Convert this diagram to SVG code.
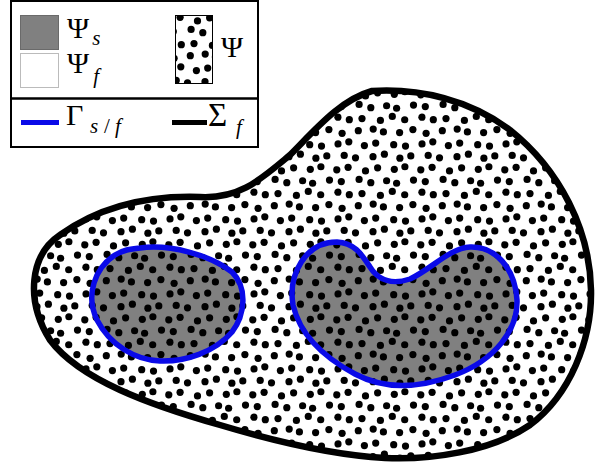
<svg xmlns="http://www.w3.org/2000/svg" width="596" height="470" viewBox="0 0 596 470">
<style>
.t{font-family:"Liberation Serif","DejaVu Serif",serif;fill:#000}
.sub{font-style:italic}
.inc{fill:#808080}
.incl{fill:none;stroke:#0a0ae8;stroke-width:5.5;stroke-linejoin:round}
</style>
<defs>
<pattern id="dots" patternUnits="userSpaceOnUse" width="84" height="75">
<g fill="#000">
<circle cx="8.2" cy="5.45" r="3.6"/><circle cx="19.5" cy="7.85" r="3.6"/><circle cx="37" cy="6.65" r="3.6"/><circle cx="48.4" cy="4.15" r="3.6"/><circle cx="63.9" cy="8.15" r="3.6"/><circle cx="74.8" cy="5.95" r="3.6"/>
<circle cx="0.8" cy="19.85" r="3.6"/><circle cx="84.8" cy="19.85" r="3.6"/><circle cx="12.1" cy="17.35" r="3.6"/><circle cx="29.5" cy="20.95" r="3.6"/><circle cx="41.6" cy="17.85" r="3.6"/><circle cx="58.3" cy="19.35" r="3.6"/><circle cx="68.9" cy="16.75" r="3.6"/>
<circle cx="5.3" cy="31.55" r="3.6"/><circle cx="23.1" cy="29.45" r="3.6"/><circle cx="34.8" cy="32.65" r="3.6"/><circle cx="50.6" cy="30.75" r="3.6"/><circle cx="60.6" cy="33.25" r="3.6"/><circle cx="77.5" cy="30.05" r="3.6"/>
<circle cx="1.9" cy="42.15" r="3.6"/><circle cx="85.9" cy="42.15" r="3.6"/><circle cx="13.3" cy="44.65" r="3.6"/><circle cx="26" cy="43.55" r="3.6"/><circle cx="44.4" cy="45.45" r="3.6"/><circle cx="56.3" cy="41.45" r="3.6"/><circle cx="68.7" cy="44.75" r="3.6"/>
<circle cx="6.1" cy="58.35" r="3.6"/><circle cx="22.3" cy="55.65" r="3.6"/><circle cx="37.2" cy="54.05" r="3.6"/><circle cx="47.4" cy="56.95" r="3.6"/><circle cx="63.6" cy="57.55" r="3.6"/><circle cx="76.9" cy="54.55" r="3.6"/>
<circle cx="2" cy="68.95" r="3.6"/><circle cx="86" cy="68.95" r="3.6"/><circle cx="12.8" cy="66.85" r="3.6"/><circle cx="28.4" cy="70.55" r="3.6"/><circle cx="39.7" cy="68.05" r="3.6"/><circle cx="57.7" cy="69.65" r="3.6"/><circle cx="69.5" cy="71.05" r="3.6"/>
</g>
</pattern>
<path id="outer" d="M372,91 C420,88 470,100 510,130 C560,170 590,230 591,290 C592,340 570,395 530,425 C490,452 430,460 385,458 C330,455 270,440 220,425 C150,405 80,380 50,340 C25,300 30,255 60,235 C95,210 140,195 200,197 C240,199 260,180 290,155 C315,130 340,100 372,91 Z"/>
<path id="incA" d="M140,248 C170,244 210,255 232,272 C248,288 245,315 232,332 C215,352 185,362 160,361 C135,360 110,345 97,320 C85,295 95,268 115,255 C123,250 130,249 140,248 Z"/>
<path id="incB" d="M337,242 C355,243 362,255 370,267 C378,280 392,285 410,279 C430,270 450,248 470,247 C495,246 515,268 517,300 C518,330 495,360 455,375 C420,388 385,390 355,374 C325,358 300,335 293,305 C288,275 305,242 337,242 Z"/>
</defs>
<g id="domain">
<use href="#outer" fill="#fff"/>
<use href="#incA" class="inc"/>
<use href="#incB" class="inc"/>
<use href="#outer" fill="url(#dots)"/>
<use href="#incA" class="incl"/>
<use href="#incB" class="incl"/>
<use href="#outer" fill="none" stroke="#000" stroke-width="6.5" stroke-linejoin="round"/>
</g>
<g id="legend">
<rect x="11" y="1" width="247" height="146" fill="#fff" stroke="#000" stroke-width="2"/>
<line x1="11" y1="98.5" x2="258" y2="98.5" stroke="#000" stroke-width="2.5"/>
<rect x="20.5" y="15.5" width="38" height="34" fill="#808080" stroke="#6a6a6a" stroke-width="1"/>
<rect x="20.5" y="53.5" width="38" height="34" fill="#fff" stroke="#bbb" stroke-width="1"/>
<text class="t" x="67" y="38" font-size="30">Ψ<tspan class="sub" font-size="21" dx="3" dy="7">s</tspan></text>
<text class="t" x="67" y="73" font-size="30">Ψ<tspan class="sub" font-size="21" dx="4" dy="10">f</tspan></text>
<rect x="175.5" y="15.5" width="37" height="68" fill="#fff"/>
<rect x="175.5" y="15.5" width="37" height="68" fill="url(#dots)" stroke="#000" stroke-width="1"/>
<text class="t" x="221" y="57" font-size="30">Ψ</text>
<line x1="21" y1="122.5" x2="59" y2="122.5" stroke="#0a0ae8" stroke-width="5"/>
<text class="t" x="66" y="125" font-size="30">Γ</text>
<text class="t sub" x="90" y="133" font-size="21">s</text>
<text class="t" x="104" y="133" font-size="21">/</text>
<text class="t sub" x="115" y="133" font-size="21">f</text>
<line x1="172" y1="122.5" x2="207" y2="122.5" stroke="#000" stroke-width="5"/>
<text class="t" x="208" y="126" font-size="33">Σ</text>
<text class="t sub" x="236" y="134" font-size="21">f</text>
</g>
</svg>
